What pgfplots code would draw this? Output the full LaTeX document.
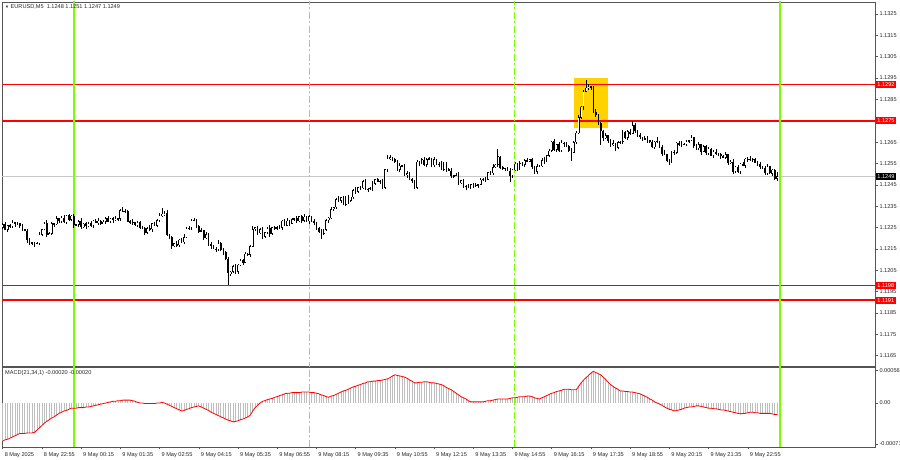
\documentclass[border=0pt]{standalone}
\usepackage{pgfplots}
\pgfplotsset{compat=1.18}
\usepackage{pgfplotstable}
\usepackage{fontspec}
\setmainfont{Liberation Sans}

\definecolor{mtgreen}{RGB}{124,252,0}
\definecolor{mtgold}{RGB}{255,210,0}
\definecolor{mtframe}{RGB}{85,85,85}
\definecolor{mtsilver}{RGB}{190,190,190}
\definecolor{mtbid}{RGB}{200,200,200}

% EURUSD M5: bar index (0 = 9 May 00:00), open, high, low, close, MACD(21,34,1)
\pgfplotstableread{
i o h l c m
-29 1.12250 1.12270 1.12242 1.12265 -0.00066
-28 1.12265 1.12275 1.12238 1.12242 -0.00064
-27 1.12242 1.12264 1.12231 1.12261 -0.00063
-26 1.12261 1.12269 1.12249 1.12254 -0.00061
-25 1.12254 1.12287 1.12248 1.12273 -0.00059
-24 1.12273 1.12277 1.12254 1.12267 -0.00057
-23 1.12267 1.12277 1.12264 1.12270 -0.00055
-22 1.12270 1.12275 1.12248 1.12257 -0.00053
-21 1.12257 1.12267 1.12233 1.12241 -0.00053
-20 1.12241 1.12244 1.12232 1.12236 -0.00053
-19 1.12236 1.12244 1.12180 1.12191 -0.00052
-18 1.12191 1.12205 1.12172 1.12177 -0.00052
-17 1.12177 1.12184 1.12171 1.12180 -0.00052
-16 1.12180 1.12184 1.12162 1.12175 -0.00051
-15 1.12175 1.12183 1.12172 1.12178 -0.00047
-14 1.12178 1.12229 1.12169 1.12219 -0.00043
-13 1.12219 1.12246 1.12211 1.12243 -0.00039
-12 1.12243 1.12278 1.12239 1.12270 -0.00035
-11 1.12270 1.12284 1.12207 1.12218 -0.00032
-10 1.12218 1.12227 1.12213 1.12223 -0.00029
-9 1.12223 1.12277 1.12217 1.12270 -0.00026
-8 1.12270 1.12275 1.12254 1.12267 -0.00024
-7 1.12267 1.12304 1.12264 1.12294 -0.00021
-6 1.12294 1.12297 1.12272 1.12281 -0.00018
-5 1.12281 1.12304 1.12273 1.12296 -0.00016
-4 1.12296 1.12310 1.12272 1.12276 -0.00014
-3 1.12276 1.12311 1.12265 1.12307 -0.00013
-2 1.12307 1.12314 1.12283 1.12288 -0.00011
-1 1.12288 1.12309 1.12282 1.12304 -0.00009
0 1.12304 1.12314 1.12249 1.12262 -0.00009
1 1.12262 1.12268 1.12259 1.12265 -0.00009
2 1.12265 1.12288 1.12256 1.12280 -0.00008
3 1.12280 1.12294 1.12245 1.12253 -0.00008
4 1.12253 1.12273 1.12249 1.12269 -0.00008
5 1.12269 1.12276 1.12247 1.12258 -0.00007
6 1.12258 1.12276 1.12253 1.12271 -0.00007
7 1.12271 1.12281 1.12255 1.12261 -0.00006
8 1.12261 1.12286 1.12248 1.12283 -0.00005
9 1.12283 1.12291 1.12271 1.12274 -0.00004
10 1.12274 1.12295 1.12265 1.12281 -0.00003
11 1.12281 1.12285 1.12262 1.12270 -0.00002
12 1.12270 1.12285 1.12266 1.12278 -0.00001
13 1.12278 1.12299 1.12267 1.12294 0.00000
14 1.12294 1.12304 1.12275 1.12280 0.00001
15 1.12280 1.12297 1.12274 1.12294 0.00002
16 1.12294 1.12302 1.12273 1.12286 0.00003
17 1.12286 1.12307 1.12283 1.12293 0.00003
18 1.12293 1.12297 1.12281 1.12290 0.00004
19 1.12290 1.12336 1.12282 1.12329 0.00004
20 1.12329 1.12346 1.12324 1.12328 0.00005
21 1.12328 1.12339 1.12317 1.12329 0.00005
22 1.12329 1.12332 1.12275 1.12280 0.00005
23 1.12280 1.12288 1.12268 1.12274 0.00005
24 1.12274 1.12289 1.12261 1.12275 0.00004
25 1.12275 1.12279 1.12259 1.12262 0.00003
26 1.12262 1.12281 1.12253 1.12274 0.00001
27 1.12274 1.12279 1.12242 1.12250 0.00000
28 1.12250 1.12260 1.12245 1.12249 0.00000
29 1.12249 1.12252 1.12216 1.12227 -0.00001
30 1.12227 1.12255 1.12222 1.12247 -0.00001
31 1.12247 1.12261 1.12237 1.12243 -0.00001
32 1.12243 1.12273 1.12230 1.12269 -0.00001
33 1.12269 1.12276 1.12257 1.12260 -0.00001
34 1.12260 1.12290 1.12251 1.12285 0.00000
35 1.12285 1.12317 1.12277 1.12307 0.00000
36 1.12307 1.12342 1.12303 1.12314 0.00001
37 1.12314 1.12327 1.12303 1.12319 0.00000
38 1.12319 1.12333 1.12212 1.12217 -0.00002
39 1.12217 1.12221 1.12197 1.12203 -0.00004
40 1.12203 1.12210 1.12150 1.12163 -0.00006
41 1.12163 1.12180 1.12160 1.12175 -0.00008
42 1.12175 1.12185 1.12159 1.12168 -0.00010
43 1.12168 1.12196 1.12160 1.12193 -0.00012
44 1.12193 1.12201 1.12179 1.12183 -0.00014
45 1.12183 1.12219 1.12172 1.12205 -0.00013
46 1.12205 1.12251 1.12200 1.12247 -0.00011
47 1.12247 1.12257 1.12241 1.12250 -0.00010
48 1.12250 1.12290 1.12237 1.12285 -0.00008
49 1.12285 1.12296 1.12282 1.12286 -0.00007
50 1.12286 1.12289 1.12248 1.12257 -0.00006
51 1.12257 1.12265 1.12225 1.12233 -0.00005
52 1.12233 1.12247 1.12229 1.12237 -0.00007
53 1.12237 1.12241 1.12191 1.12202 -0.00009
54 1.12202 1.12227 1.12197 1.12220 -0.00011
55 1.12220 1.12225 1.12167 1.12173 -0.00013
56 1.12173 1.12183 1.12153 1.12166 -0.00016
57 1.12166 1.12169 1.12148 1.12151 -0.00018
58 1.12151 1.12159 1.12138 1.12147 -0.00020
59 1.12147 1.12191 1.12139 1.12177 -0.00022
60 1.12177 1.12181 1.12142 1.12146 -0.00024
61 1.12146 1.12153 1.12122 1.12133 -0.00026
62 1.12133 1.12138 1.12099 1.12104 -0.00028
63 1.12104 1.12114 1.11984 1.12036 -0.00030
64 1.12036 1.12046 1.12023 1.12043 -0.00031
65 1.12043 1.12077 1.12040 1.12069 -0.00033
66 1.12069 1.12083 1.12034 1.12043 -0.00032
67 1.12043 1.12080 1.12035 1.12076 -0.00031
68 1.12076 1.12106 1.12072 1.12099 -0.00029
69 1.12099 1.12104 1.12076 1.12087 -0.00028
70 1.12087 1.12137 1.12082 1.12127 -0.00026
71 1.12127 1.12130 1.12118 1.12124 -0.00024
72 1.12124 1.12171 1.12111 1.12163 -0.00021
73 1.12163 1.12257 1.12160 1.12243 -0.00014
74 1.12243 1.12255 1.12234 1.12251 -0.00008
75 1.12251 1.12258 1.12216 1.12224 -0.00004
76 1.12224 1.12247 1.12220 1.12242 0.00000
77 1.12242 1.12252 1.12197 1.12208 0.00003
78 1.12208 1.12231 1.12203 1.12228 0.00004
79 1.12228 1.12255 1.12222 1.12247 0.00006
80 1.12247 1.12261 1.12208 1.12221 0.00007
81 1.12221 1.12255 1.12218 1.12251 0.00008
82 1.12251 1.12258 1.12238 1.12247 0.00010
83 1.12247 1.12256 1.12239 1.12251 0.00011
84 1.12251 1.12261 1.12246 1.12250 0.00013
85 1.12250 1.12286 1.12239 1.12283 0.00014
86 1.12283 1.12291 1.12256 1.12261 0.00016
87 1.12261 1.12297 1.12255 1.12283 0.00017
88 1.12283 1.12287 1.12257 1.12270 0.00017
89 1.12270 1.12296 1.12267 1.12289 0.00018
90 1.12289 1.12298 1.12280 1.12293 0.00018
91 1.12293 1.12303 1.12273 1.12281 0.00018
92 1.12281 1.12306 1.12277 1.12303 0.00018
93 1.12303 1.12311 1.12272 1.12283 0.00019
94 1.12283 1.12315 1.12278 1.12301 0.00019
95 1.12301 1.12305 1.12275 1.12281 0.00019
96 1.12281 1.12310 1.12268 1.12303 0.00019
97 1.12303 1.12308 1.12279 1.12282 0.00018
98 1.12282 1.12292 1.12263 1.12272 0.00018
99 1.12272 1.12275 1.12240 1.12248 0.00017
100 1.12248 1.12256 1.12227 1.12231 0.00016
101 1.12231 1.12245 1.12194 1.12223 0.00014
102 1.12223 1.12245 1.12218 1.12241 0.00013
103 1.12241 1.12291 1.12235 1.12284 0.00011
104 1.12284 1.12300 1.12271 1.12295 0.00010
105 1.12295 1.12348 1.12292 1.12338 0.00012
106 1.12338 1.12349 1.12329 1.12346 0.00013
107 1.12346 1.12390 1.12338 1.12382 0.00015
108 1.12382 1.12396 1.12371 1.12375 0.00017
109 1.12375 1.12394 1.12364 1.12390 0.00019
110 1.12390 1.12397 1.12355 1.12360 0.00021
111 1.12360 1.12400 1.12354 1.12395 0.00022
112 1.12395 1.12405 1.12362 1.12375 0.00024
113 1.12375 1.12396 1.12372 1.12393 0.00026
114 1.12393 1.12433 1.12384 1.12425 0.00028
115 1.12425 1.12439 1.12409 1.12417 0.00029
116 1.12417 1.12441 1.12413 1.12437 0.00031
117 1.12437 1.12444 1.12425 1.12436 0.00032
118 1.12436 1.12474 1.12431 1.12469 0.00034
119 1.12469 1.12479 1.12427 1.12433 0.00035
120 1.12433 1.12436 1.12418 1.12431 0.00037
121 1.12431 1.12439 1.12428 1.12435 0.00037
122 1.12435 1.12470 1.12422 1.12456 0.00038
123 1.12456 1.12479 1.12448 1.12475 0.00038
124 1.12475 1.12482 1.12462 1.12466 0.00039
125 1.12466 1.12473 1.12455 1.12468 0.00039
126 1.12468 1.12478 1.12432 1.12437 0.00040
127 1.12437 1.12526 1.12431 1.12523 0.00041
128 1.12523 1.12593 1.12510 1.12572 0.00042
129 1.12572 1.12592 1.12569 1.12578 0.00044
130 1.12578 1.12582 1.12561 1.12570 0.00047
131 1.12570 1.12577 1.12553 1.12561 0.00049
132 1.12561 1.12566 1.12518 1.12522 0.00048
133 1.12522 1.12551 1.12511 1.12541 0.00047
134 1.12541 1.12544 1.12534 1.12539 0.00046
135 1.12539 1.12547 1.12491 1.12497 0.00045
136 1.12497 1.12518 1.12484 1.12504 0.00043
137 1.12504 1.12508 1.12472 1.12475 0.00040
138 1.12475 1.12482 1.12458 1.12467 0.00038
139 1.12467 1.12472 1.12429 1.12437 0.00035
140 1.12437 1.12568 1.12433 1.12558 0.00035
141 1.12558 1.12561 1.12540 1.12551 0.00036
142 1.12551 1.12577 1.12546 1.12569 0.00036
143 1.12569 1.12583 1.12540 1.12546 0.00037
144 1.12546 1.12574 1.12533 1.12570 0.00037
145 1.12570 1.12581 1.12567 1.12574 0.00036
146 1.12574 1.12579 1.12533 1.12542 0.00035
147 1.12542 1.12579 1.12534 1.12569 0.00035
148 1.12569 1.12572 1.12542 1.12546 0.00034
149 1.12546 1.12557 1.12535 1.12549 0.00033
150 1.12549 1.12563 1.12518 1.12523 0.00032
151 1.12523 1.12557 1.12517 1.12553 0.00030
152 1.12553 1.12560 1.12513 1.12526 0.00027
153 1.12526 1.12531 1.12514 1.12517 0.00025
154 1.12517 1.12527 1.12483 1.12492 0.00023
155 1.12492 1.12498 1.12484 1.12495 0.00020
156 1.12495 1.12505 1.12491 1.12497 0.00017
157 1.12497 1.12511 1.12450 1.12461 0.00014
158 1.12461 1.12475 1.12456 1.12471 0.00011
159 1.12471 1.12478 1.12436 1.12442 0.00009
160 1.12442 1.12451 1.12429 1.12446 0.00007
161 1.12446 1.12456 1.12437 1.12440 0.00004
162 1.12440 1.12456 1.12431 1.12453 0.00002
163 1.12453 1.12461 1.12438 1.12446 0.00002
164 1.12446 1.12460 1.12442 1.12450 0.00002
165 1.12450 1.12457 1.12435 1.12453 0.00002
166 1.12453 1.12482 1.12448 1.12475 0.00002
167 1.12475 1.12484 1.12469 1.12479 0.00002
168 1.12479 1.12489 1.12463 1.12476 0.00003
169 1.12476 1.12513 1.12473 1.12510 0.00004
170 1.12510 1.12518 1.12496 1.12505 0.00004
171 1.12505 1.12547 1.12497 1.12533 0.00005
172 1.12533 1.12548 1.12529 1.12544 0.00006
173 1.12544 1.12618 1.12533 1.12583 0.00007
174 1.12583 1.12588 1.12527 1.12532 0.00007
175 1.12532 1.12542 1.12521 1.12527 0.00007
176 1.12527 1.12531 1.12514 1.12528 0.00007
177 1.12528 1.12536 1.12513 1.12516 0.00007
178 1.12516 1.12530 1.12465 1.12493 0.00008
179 1.12493 1.12524 1.12485 1.12520 0.00009
180 1.12520 1.12556 1.12516 1.12549 0.00009
181 1.12549 1.12554 1.12515 1.12526 0.00010
182 1.12526 1.12563 1.12521 1.12553 0.00011
183 1.12553 1.12556 1.12540 1.12546 0.00011
184 1.12546 1.12573 1.12533 1.12565 0.00011
185 1.12565 1.12579 1.12558 1.12561 0.00012
186 1.12561 1.12573 1.12556 1.12569 0.00012
187 1.12569 1.12576 1.12527 1.12535 0.00011
188 1.12535 1.12540 1.12500 1.12513 0.00009
189 1.12513 1.12547 1.12502 1.12537 0.00008
190 1.12537 1.12542 1.12532 1.12539 0.00007
191 1.12539 1.12574 1.12533 1.12566 0.00009
192 1.12566 1.12580 1.12549 1.12562 0.00011
193 1.12562 1.12593 1.12559 1.12589 0.00013
194 1.12589 1.12618 1.12580 1.12611 0.00015
195 1.12611 1.12658 1.12603 1.12653 0.00017
196 1.12653 1.12663 1.12610 1.12614 0.00018
197 1.12614 1.12644 1.12603 1.12641 0.00020
198 1.12641 1.12649 1.12605 1.12610 0.00021
199 1.12610 1.12661 1.12604 1.12647 0.00022
200 1.12647 1.12651 1.12630 1.12643 0.00024
201 1.12643 1.12650 1.12628 1.12631 0.00024
202 1.12631 1.12636 1.12602 1.12611 0.00024
203 1.12611 1.12621 1.12560 1.12602 0.00023
204 1.12602 1.12654 1.12598 1.12651 0.00023
205 1.12651 1.12702 1.12640 1.12694 0.00023
206 1.12694 1.12780 1.12689 1.12766 0.00029
207 1.12766 1.12820 1.12760 1.12816 0.00035
208 1.12816 1.12894 1.12803 1.12887 0.00040
209 1.12887 1.12940 1.12884 1.12905 0.00044
210 1.12905 1.12922 1.12896 1.12912 0.00048
211 1.12912 1.12915 1.12896 1.12904 0.00052
212 1.12904 1.12912 1.12789 1.12793 0.00055
213 1.12793 1.12807 1.12768 1.12779 0.00053
214 1.12779 1.12783 1.12732 1.12737 0.00051
215 1.12737 1.12744 1.12638 1.12703 0.00049
216 1.12703 1.12708 1.12657 1.12670 0.00045
217 1.12670 1.12692 1.12667 1.12682 0.00041
218 1.12682 1.12685 1.12647 1.12656 0.00036
219 1.12656 1.12664 1.12631 1.12639 0.00032
220 1.12639 1.12659 1.12635 1.12645 0.00029
221 1.12645 1.12649 1.12610 1.12625 0.00026
222 1.12625 1.12656 1.12620 1.12649 0.00024
223 1.12649 1.12658 1.12643 1.12653 0.00021
224 1.12653 1.12708 1.12640 1.12698 0.00021
225 1.12698 1.12701 1.12667 1.12670 0.00020
226 1.12670 1.12708 1.12661 1.12700 0.00020
227 1.12700 1.12714 1.12685 1.12693 0.00019
228 1.12693 1.12750 1.12689 1.12731 0.00019
229 1.12731 1.12738 1.12693 1.12704 0.00018
230 1.12704 1.12709 1.12677 1.12682 0.00017
231 1.12682 1.12692 1.12667 1.12673 0.00016
232 1.12673 1.12676 1.12657 1.12670 0.00014
233 1.12670 1.12678 1.12662 1.12665 0.00012
234 1.12665 1.12679 1.12649 1.12658 0.00010
235 1.12658 1.12662 1.12644 1.12652 0.00007
236 1.12652 1.12659 1.12623 1.12627 0.00005
237 1.12627 1.12656 1.12616 1.12651 0.00002
238 1.12651 1.12674 1.12646 1.12655 0.00000
239 1.12655 1.12658 1.12621 1.12627 -0.00002
240 1.12627 1.12635 1.12585 1.12598 -0.00004
241 1.12598 1.12612 1.12590 1.12593 -0.00007
242 1.12593 1.12597 1.12556 1.12565 -0.00009
243 1.12565 1.12572 1.12546 1.12557 -0.00011
244 1.12557 1.12609 1.12553 1.12604 -0.00012
245 1.12604 1.12614 1.12590 1.12601 -0.00014
246 1.12601 1.12650 1.12596 1.12647 -0.00013
247 1.12647 1.12655 1.12634 1.12640 -0.00012
248 1.12640 1.12654 1.12626 1.12639 -0.00011
249 1.12639 1.12647 1.12636 1.12643 -0.00009
250 1.12643 1.12662 1.12634 1.12655 -0.00008
251 1.12655 1.12662 1.12647 1.12657 -0.00007
252 1.12657 1.12683 1.12653 1.12673 -0.00007
253 1.12673 1.12676 1.12624 1.12635 -0.00006
254 1.12635 1.12643 1.12616 1.12621 -0.00005
255 1.12621 1.12653 1.12615 1.12639 -0.00005
256 1.12639 1.12643 1.12593 1.12606 -0.00006
257 1.12606 1.12638 1.12603 1.12631 -0.00007
258 1.12631 1.12636 1.12591 1.12600 -0.00008
259 1.12600 1.12629 1.12592 1.12619 -0.00009
260 1.12619 1.12622 1.12584 1.12588 -0.00009
261 1.12588 1.12613 1.12577 1.12605 -0.00010
262 1.12605 1.12619 1.12592 1.12597 -0.00010
263 1.12597 1.12601 1.12585 1.12591 -0.00011
264 1.12591 1.12598 1.12573 1.12586 -0.00012
265 1.12586 1.12591 1.12576 1.12579 -0.00012
266 1.12579 1.12604 1.12570 1.12594 -0.00013
267 1.12594 1.12597 1.12545 1.12553 -0.00014
268 1.12553 1.12566 1.12549 1.12558 -0.00015
269 1.12558 1.12572 1.12501 1.12512 -0.00016
270 1.12512 1.12539 1.12507 1.12535 -0.00017
271 1.12535 1.12542 1.12506 1.12512 -0.00018
272 1.12512 1.12554 1.12499 1.12549 -0.00019
273 1.12549 1.12559 1.12537 1.12540 -0.00018
274 1.12540 1.12575 1.12531 1.12572 -0.00018
275 1.12572 1.12580 1.12560 1.12568 -0.00017
276 1.12568 1.12585 1.12564 1.12571 -0.00016
277 1.12571 1.12575 1.12558 1.12569 -0.00016
278 1.12569 1.12576 1.12550 1.12555 -0.00017
279 1.12555 1.12560 1.12541 1.12547 -0.00017
280 1.12547 1.12557 1.12524 1.12537 -0.00018
281 1.12537 1.12540 1.12526 1.12529 -0.00018
282 1.12529 1.12537 1.12497 1.12506 -0.00018
283 1.12506 1.12550 1.12498 1.12536 -0.00018
284 1.12536 1.12540 1.12500 1.12504 -0.00018
285 1.12504 1.12528 1.12493 1.12521 -0.00019
286 1.12521 1.12526 1.12475 1.12480 -0.00020
287 1.12480 1.12510 1.12470 1.12490 -0.00020
}\bars

\tikzset{
  tag/.style={anchor=west, xshift=0.6pt, text=white, inner xsep=1.6pt, inner ysep=1.4pt,
    font=\fontsize{5.6}{6}\selectfont, text height=4pt, text depth=0pt},
}
\pgfplotsset{
  mtaxis/.style={
    scale only axis, width=873pt,
    xmin=-29.3, xmax=326.9,
    axis line style={draw=mtframe, line width=0.9pt},
    tick style={draw=mtframe, line width=0.6pt},
    tick align=outside, major tick length=2.5pt,
    ytick pos=right, yticklabel pos=right,
    scaled y ticks=false,
    ticklabel style={font=\fontsize{5.6}{6}\selectfont, text=black!85},
    yticklabel style={xshift=-1.5pt},
    clip mode=individual,
  },
  sessline/.style={draw=mtgreen, line width=1.8pt},
  sessdash/.style={draw=mtgreen, line width=1pt, dash pattern=on 7pt off 2.5pt on 2pt off 2.5pt},
  body/.style 2 args={draw=none, mark=none, forget plot,
    error bars/.cd, y dir=both, y explicit, error mark=none,
    error bar style={draw=#1, line width=#2}},
}

\begin{document}
\begin{tikzpicture}
\path[use as bounding box, fill=white] (0,0) rectangle (900pt,460pt);

% price panel
\begin{axis}[mtaxis,
  at={(2pt,94pt)}, anchor=south west, height=364pt,
  ymin=1.11602, ymax=1.13306,
  xtick=\empty,
  ytick={1.1165,1.1175,1.1185,1.1195,1.1205,1.1215,1.1225,1.1235,1.1245,1.1255,1.1265,1.1275,1.1285,1.1295,1.1305,1.1315,1.1325},
  yticklabels={1.1165,1.1175,1.1185,1.1195,1.1205,1.1215,1.1225,1.1235,1.1245,1.1255,1.1265,,1.1285,1.1295,1.1305,1.1315,1.1325},
]
% highlighted zone
\addplot[fill=mtgold, draw=none] coordinates {(204.0,1.12716) (217.9,1.12716) (217.9,1.12950) (204.0,1.12950)} -- cycle;
% levels
\addplot[mtbid, line width=0.7pt] coordinates {(-40,1.1249) (340,1.1249)};
\addplot[red, line width=0.7pt] coordinates {(-40,1.1292) (340,1.1292)};
\addplot[red, line width=1.5pt] coordinates {(-40,1.1275) (340,1.1275)};
\addplot[red, line width=0.7pt] coordinates {(-40,1.1198) (340,1.1198)};
\addplot[red, line width=1.5pt] coordinates {(-40,1.1191) (340,1.1191)};
% session lines
\addplot[sessline] coordinates {(0,1.11) (0,1.14)};
\addplot[sessline] coordinates {(288,1.11) (288,1.14)};
\addplot[sessdash] coordinates {(96,1.11) (96,1.14)};
\addplot[sessdash] coordinates {(180,1.11) (180,1.14)};
% candles: wicks
\addplot[body={black}{0.8pt}] table[x=i, y expr={(\thisrow{h}+\thisrow{l})/2}, y error expr={(\thisrow{h}-\thisrow{l})/2}] {\bars};
% bearish bodies
\addplot[body={black}{1.6pt}]
  table[x=i, y expr={\thisrow{c}<\thisrow{o} ? (\thisrow{o}+\thisrow{c})/2 : nan},
        y error expr={abs(\thisrow{o}-\thisrow{c})/2+0.000008}] {\bars};
% bullish bodies: dark outline, light core
\addplot[body={black}{1.8pt}]
  table[x=i, y expr={\thisrow{c}<\thisrow{o} ? nan : (\thisrow{o}+\thisrow{c})/2},
        y error expr={abs(\thisrow{o}-\thisrow{c})/2+0.000008}] {\bars};
\addplot[body={white}{0.6pt}]
  table[x=i, y expr={\thisrow{c}<\thisrow{o} ? nan : (\thisrow{o}+\thisrow{c})/2},
        y error expr={max(abs(\thisrow{o}-\thisrow{c})/2-0.00002,0)}] {\bars};
% price tags
\node[tag, fill=red] at (axis cs:326.9,1.1292) {1.1292};
\node[tag, fill=red] at (axis cs:326.9,1.1275) {1.1275};
\node[tag, fill=black] at (axis cs:326.9,1.1249) {1.1249};
\node[tag, fill=red] at (axis cs:326.9,1.1198) {1.1198};
\node[tag, fill=red] at (axis cs:326.9,1.1191) {1.1191};
\node[anchor=north west, inner sep=0pt, xshift=3pt, yshift=-2.5pt, font=\fontsize{5.6}{6}\selectfont, text=black!85]
  at (rel axis cs:0,1) {{\fontsize{4}{5}\selectfont ▼}\ EURUSD,M5\ \ 1.1248 1.1251 1.1247 1.1249};
\end{axis}

% MACD panel
\begin{axis}[mtaxis,
  at={(2pt,13pt)}, anchor=south west, height=80pt,
  ymin=-0.000765, ymax=0.000626,
  ytick={-0.00071,0,0.00056}, yticklabels={-0.00071,0.00,0.00056},
  xtick={-29,-13,3,19,35,51,67,83,99,115,131,147,163,179,195,211,227,243,259,275},
  xticklabels={8 May 2025,8 May 22:55,9 May 00:15,9 May 01:35,9 May 02:55,9 May 04:15,9 May 05:35,9 May 06:55,9 May 08:15,9 May 09:35,9 May 10:55,9 May 12:15,9 May 13:35,9 May 14:55,9 May 16:15,9 May 17:35,9 May 18:55,9 May 20:15,9 May 21:35,9 May 22:55},
  xtick pos=left,
  xticklabel style={anchor=north west, xshift=-1.5pt, yshift=0.5pt},
]
\addplot[sessline] coordinates {(0,-0.001) (0,0.001)};
\addplot[sessline] coordinates {(288,-0.001) (288,0.001)};
\addplot[sessdash] coordinates {(96,-0.001) (96,0.001)};
\addplot[sessdash] coordinates {(180,-0.001) (180,0.001)};
\addplot[ycomb, mtsilver, line width=0.8pt, mark=none] table[x=i, y=m] {\bars};
\addplot[red, line width=0.8pt, mark=none] table[x=i, y=m] {\bars};
\node[anchor=north west, inner sep=0pt, xshift=3pt, yshift=-3pt, font=\fontsize{5.6}{6}\selectfont, text=black!85]
  at (rel axis cs:0,1) {MACD(21,34,1) -0.00020 -0.00020};
\end{axis}
\end{tikzpicture}
\end{document}
